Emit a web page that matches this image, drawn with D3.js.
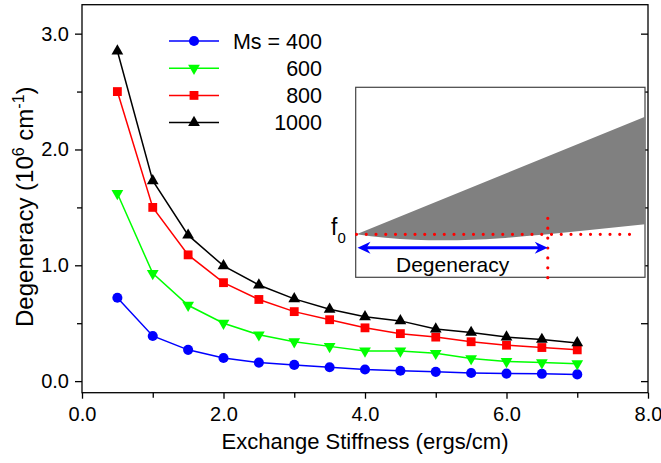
<!DOCTYPE html>
<html><head><meta charset="utf-8">
<script src="https://cdn.jsdelivr.net/npm/d3@7"></script>
<style>body{margin:0;background:#fff}svg{display:block}text{font-family:"Liberation Sans",Arial,Helvetica,sans-serif}</style>
</head><body><svg id="c" width="661" height="463"></svg>
<script>
const stiffness = [0.5,1.0,1.5,2.0,2.5,3.0,3.5,4.0,4.5,5.0,5.5,6.0,6.5,7.0];
const ms400  = [0.72,0.39,0.27,0.20,0.16,0.14,0.12,0.10,0.09,0.08,0.07,0.065,0.063,0.058];
const ms600  = [1.62,0.93,0.655,0.50,0.40,0.34,0.30,0.26,0.26,0.24,0.195,0.17,0.16,0.15];
const ms800  = [2.50,1.50,1.09,0.85,0.705,0.60,0.53,0.46,0.41,0.38,0.34,0.31,0.29,0.27];
const ms1000 = [2.85,1.73,1.26,0.995,0.83,0.71,0.62,0.555,0.52,0.45,0.42,0.38,0.36,0.33];
const seriesLabels = ["Ms = 400","600","800","1000"];
const xTicks = [0,2,4,6,8];
const xMinorTicks = [1,3,5,7];
const yTicks = [0,1,2,3];
const yMinorTicks = [0.5,1.5,2.5];
// inset (schematic dispersion band), normalized wavevector k vs frequency offset from f0
const insetK = [0,0.1,0.2,0.3,0.4,0.5,0.6,0.663,0.8,1.0];
const insetLower = [0,-0.035,-0.055,-0.06,-0.055,-0.04,-0.015,0,0.04,0.10];
const insetUpperK = [0,1.0];
const insetUpper = [0,1.176];
const degeneracyK = 0.663;

const svg = d3.select("#c");
const x = d3.scaleLinear([0,8],[82,648]);
const y = d3.scaleLinear([-0.1,3.25],[392.7,4.7]);

const colors = ["#0000ff","#00ff00","#ff0000","#000000"];
const symbols = [
  {t:d3.symbolCircle,s:80,r:0},
  {t:d3.symbolTriangle,s:60,r:180},
  {t:d3.symbolSquare,s:78,r:0},
  {t:d3.symbolTriangle,s:60,r:0}
];
const series = [ms400,ms600,ms800,ms1000];

// frame
svg.append("rect").attr("x",x(0)).attr("y",y(3.25)).attr("width",x(8)-x(0)).attr("height",y(-0.1)-y(3.25))
  .attr("fill","none").attr("stroke","#000").attr("stroke-width",1.3);

// axes
const fs = 20;
svg.append("g").attr("transform",`translate(0,${y(-0.1)})`)
  .call(d3.axisBottom(x).tickValues(xTicks).tickSize(6).tickPadding(8).tickFormat(d3.format(".1f")));
svg.append("g").attr("transform",`translate(0,${y(-0.1)})`)
  .call(d3.axisBottom(x).tickValues(xMinorTicks).tickSize(5).tickFormat(""));
svg.append("g").attr("transform",`translate(${x(0)},0)`)
  .call(d3.axisLeft(y).tickValues(yTicks).tickSize(7).tickPadding(6).tickFormat(d3.format(".1f")));
svg.append("g").attr("transform",`translate(${x(0)},0)`)
  .call(d3.axisLeft(y).tickValues(yMinorTicks).tickSize(5).tickFormat(""));
svg.append("g").attr("transform",`translate(${x(8)},0)`)
  .call(d3.axisLeft(y).tickValues(yTicks.concat(yMinorTicks)).tickSize(7).tickFormat(""));
svg.selectAll(".domain").remove();
svg.selectAll(".tick line").attr("stroke","#000").attr("stroke-width",1.3);
svg.selectAll(".tick text").attr("font-size",fs).attr("fill","#000").style("font-family",'"Liberation Sans",Arial,sans-serif');

// titles
svg.append("text").attr("x",(x(0)+x(8))/2).attr("y",449).attr("text-anchor","middle").attr("font-size",22)
  .text("Exchange Stiffness (ergs/cm)");
const yt = svg.append("text").attr("transform",`translate(33,${(y(-0.1)+y(3.25))/2+8}) rotate(-90)`)
  .attr("text-anchor","middle").attr("font-size",24);
yt.append("tspan").text("Degeneracy (10");
yt.append("tspan").attr("font-size",16).attr("dy",-9).text("6");
yt.append("tspan").attr("dy",9).text(" cm");
yt.append("tspan").attr("font-size",16).attr("dy",-9).text("-1");
yt.append("tspan").attr("dy",9).text(")");

// inset
const ix = d3.scaleLinear([0,1],[356.5,645]);
const iy = d3.scaleLinear([-0.43,1.47],[277.3,87.3]);
const ins = svg.append("g");
ins.append("rect").attr("x",355.7).attr("y",iy(1.47)).attr("width",645-355.7).attr("height",iy(-0.43)-iy(1.47))
  .attr("fill","#fff").attr("stroke","#444").attr("stroke-width",1.2);
const upperPts = insetUpperK.map((k,i)=>[ix(k),iy(insetUpper[i])]);
const lowerPts = insetK.map((k,i)=>[ix(k),iy(insetLower[i])]);
ins.append("path").attr("d",d3.line().curve(d3.curveLinear)(upperPts)+ "L" +
  d3.line().curve(d3.curveMonotoneX)(lowerPts.slice().reverse()).slice(1) + "Z")
  .attr("fill","#808080").attr("stroke","none");
// red dotted lines
ins.append("line").attr("x1",ix(0)).attr("x2",ix(0.975)).attr("y1",iy(0)).attr("y2",iy(0))
  .attr("stroke","#ff0000").attr("stroke-width",3.2).attr("stroke-linecap","round").attr("stroke-dasharray","0 9.75");
ins.append("line").attr("x1",ix(degeneracyK)).attr("x2",ix(degeneracyK)).attr("y1",iy(0.16)).attr("y2",iy(-0.44))
  .attr("stroke","#ff0000").attr("stroke-width",3.2).attr("stroke-linecap","round").attr("stroke-dasharray","0 9.9");
// blue double arrow
const ay = iy(-0.135);
const ax0 = ix(0)+1, ax1 = ix(degeneracyK);
ins.append("line").attr("x1",ax0+6).attr("x2",ax1-6).attr("y1",ay).attr("y2",ay).attr("stroke","#0000ff").attr("stroke-width",3);
ins.append("path").attr("d",`M${ax0},${ay} L${ax0+13},${ay-6} L${ax0+9},${ay} L${ax0+13},${ay+6}Z`).attr("fill","#0000ff");
ins.append("path").attr("d",`M${ax1},${ay} L${ax1-13},${ay-6} L${ax1-9},${ay} L${ax1-13},${ay+6}Z`).attr("fill","#0000ff");
ins.append("text").attr("x",(ax0+ax1)/2).attr("y",272).attr("text-anchor","middle").attr("font-size",21).text("Degeneracy");
const f0 = ins.append("text").attr("x",331).attr("y",iy(0)+1).attr("font-size",23);
f0.append("tspan").text("f");
f0.append("tspan").attr("font-size",15).attr("dy",8).text("0");

// series
const line = d3.line().x((d,i)=>x(stiffness[i])).y(d=>y(d));
series.forEach((s,si)=>{
  svg.append("path").attr("d",line(s)).attr("fill","none").attr("stroke",colors[si]).attr("stroke-width",1.5);
  svg.append("g").selectAll("path").data(s).join("path")
    .attr("transform",(d,i)=>`translate(${x(stiffness[i])},${y(d)}) rotate(${symbols[si].r})`)
    .attr("d",d3.symbol(symbols[si].t,symbols[si].s)).attr("fill",colors[si]);
});

// legend
const lg = svg.append("g");
seriesLabels.forEach((lab,i)=>{
  const ly = 41 + i*27.2;
  lg.append("line").attr("x1",169).attr("x2",219).attr("y1",ly).attr("y2",ly).attr("stroke",colors[i]).attr("stroke-width",1.5);
  lg.append("path").attr("transform",`translate(194,${ly}) rotate(${symbols[i].r})`)
    .attr("d",d3.symbol(symbols[i].t,symbols[i].s)).attr("fill",colors[i]);
  lg.append("text").attr("x",322).attr("y",ly+7.5).attr("text-anchor","end").attr("font-size",21.5).text(lab);
});
</script></body></html>
